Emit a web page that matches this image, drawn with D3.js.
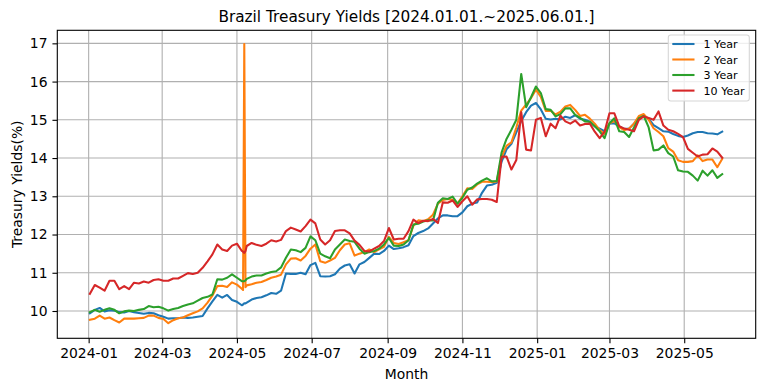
<!DOCTYPE html>
<html><head><meta charset="utf-8">
<script src="https://cdn.jsdelivr.net/npm/d3@7"></script>
<style>
body{margin:0;background:#fff}
svg{display:block}
text{font-family:"DejaVu Sans",sans-serif;fill:#000}
</style>
</head><body><div id="chart"></div>
<script>
const dates = [
"2024-01-02","2024-01-06","2024-01-10","2024-01-14","2024-01-18","2024-01-22","2024-01-26","2024-01-30",
"2024-02-03","2024-02-07","2024-02-11","2024-02-15","2024-02-19","2024-02-23","2024-02-27",
"2024-03-02","2024-03-06","2024-03-10","2024-03-14","2024-03-18","2024-03-22","2024-03-26","2024-03-30",
"2024-04-03","2024-04-07","2024-04-11","2024-04-15","2024-04-19","2024-04-23","2024-04-27",
"2024-05-01","2024-05-05","2024-05-06","2024-05-07","2024-05-08","2024-05-09","2024-05-13","2024-05-17","2024-05-21","2024-05-25","2024-05-29",
"2024-06-02","2024-06-06","2024-06-10","2024-06-14","2024-06-18","2024-06-22","2024-06-26","2024-06-30",
"2024-07-04","2024-07-08","2024-07-12","2024-07-16","2024-07-20","2024-07-24","2024-07-28",
"2024-08-01","2024-08-05","2024-08-09","2024-08-13","2024-08-17","2024-08-21","2024-08-25","2024-08-29",
"2024-09-02","2024-09-06","2024-09-10","2024-09-14","2024-09-18","2024-09-22","2024-09-26","2024-09-30",
"2024-10-04","2024-10-08","2024-10-12","2024-10-16","2024-10-20","2024-10-24","2024-10-28",
"2024-11-01","2024-11-05","2024-11-09","2024-11-13","2024-11-17","2024-11-21","2024-11-25","2024-11-29",
"2024-12-03","2024-12-07","2024-12-11","2024-12-15","2024-12-19","2024-12-23","2024-12-27","2024-12-31",
"2025-01-04","2025-01-08","2025-01-12","2025-01-16","2025-01-20","2025-01-24","2025-01-28",
"2025-02-01","2025-02-05","2025-02-09","2025-02-13","2025-02-17","2025-02-21","2025-02-25",
"2025-03-01","2025-03-05","2025-03-09","2025-03-13","2025-03-17","2025-03-21","2025-03-25","2025-03-29",
"2025-04-02","2025-04-06","2025-04-10","2025-04-14","2025-04-18","2025-04-22","2025-04-26","2025-04-30",
"2025-05-04","2025-05-08","2025-05-12","2025-05-16","2025-05-20","2025-05-24","2025-05-28",
"2025-06-01"];

const seriesNames = ["1 Year","2 Year","3 Year","10 Year"];

const yield1Y = [
9.94,10.03,10.08,9.99,10.02,10.01,9.97,9.96,
10.0,9.97,9.95,9.93,9.95,9.94,9.89,
9.85,9.8,9.81,9.81,9.83,9.82,9.83,9.85,
9.87,10.07,10.25,10.42,10.35,10.42,10.29,
10.24,10.15,10.17,10.2,10.2,10.22,10.3,10.34,10.36,10.41,10.47,
10.45,10.53,10.98,10.97,10.97,11.0,10.96,11.2,
11.26,10.91,10.9,10.91,10.96,11.11,11.19,
11.22,10.98,11.22,11.28,11.39,11.5,11.49,11.57,
11.71,11.62,11.64,11.67,11.72,11.96,12.04,12.09,
12.16,12.29,12.42,12.5,12.5,12.48,12.48,
12.58,12.74,12.81,12.84,13.09,13.28,13.3,13.35,
13.91,14.23,14.37,14.67,14.97,15.2,15.37,15.44,
15.27,15.03,15.01,15.03,15.01,15.08,15.05,
15.12,15.03,15.0,14.95,14.83,14.77,14.7,
14.9,14.91,14.83,14.76,14.77,14.9,15.03,15.11,
15.03,14.86,14.78,14.7,14.69,14.63,14.58,14.55,
14.59,14.65,14.68,14.68,14.65,14.64,14.62,
14.69];

const yield2Y = [
9.77,9.8,9.88,9.8,9.83,9.76,9.7,9.8,
9.8,9.8,9.81,9.82,9.88,9.88,9.82,
9.79,9.68,9.76,9.81,9.83,9.89,9.94,9.99,
10.07,10.22,10.4,10.65,10.66,10.63,10.75,
10.69,10.58,10.55,16.98,10.62,10.67,10.7,10.74,10.76,10.81,10.87,
10.9,10.95,11.22,11.37,11.38,11.32,11.44,11.63,
11.74,11.3,11.26,11.32,11.39,11.59,11.74,
11.77,11.45,11.5,11.54,11.61,11.54,11.61,11.68,
11.94,11.78,11.75,11.8,11.85,12.23,12.37,12.35,
12.4,12.52,12.81,12.9,12.93,12.91,12.81,
13.0,13.21,13.19,13.31,13.38,13.38,13.37,13.39,
14.03,14.32,14.41,14.8,15.24,15.4,15.57,15.79,
15.6,15.23,15.24,15.14,15.21,15.35,15.39,
15.26,15.1,15.13,15.03,14.9,14.73,14.63,
14.91,14.97,14.81,14.73,14.77,14.9,15.1,15.15,
15.0,14.78,14.68,14.57,14.26,14.17,13.94,13.9,
13.9,13.92,14.07,13.92,13.96,13.96,13.76,
13.98];

const yield3Y = [
9.97,10.03,9.98,10.03,10.07,10.03,9.94,9.99,
10.01,10.0,10.03,10.05,10.13,10.1,10.11,
10.07,10.01,10.05,10.08,10.13,10.17,10.2,10.27,
10.34,10.37,10.43,10.83,10.82,10.87,10.96,
10.87,10.78,10.78,10.78,10.8,10.84,10.9,10.93,10.93,10.98,11.02,
11.04,11.14,11.39,11.61,11.59,11.54,11.65,11.95,
11.85,11.5,11.43,11.38,11.61,11.74,11.87,
11.83,11.81,11.63,11.5,11.54,11.57,11.63,11.74,
11.91,11.71,11.7,11.74,11.85,12.26,12.28,12.34,
12.37,12.37,12.83,12.95,12.93,12.99,12.81,
12.96,13.17,13.23,13.33,13.41,13.47,13.39,13.4,
14.15,14.5,14.74,15.0,16.2,15.33,15.59,15.87,
15.7,15.28,15.26,15.09,15.15,15.3,15.3,
15.13,15.05,14.96,14.95,14.83,14.7,14.52,
14.91,15.04,14.7,14.68,14.55,14.8,15.04,15.1,
14.8,14.2,14.22,14.33,14.13,14.04,13.68,13.65,
13.64,13.54,13.41,13.67,13.54,13.68,13.48,
13.58];

const yield10Y = [
10.45,10.68,10.61,10.53,10.79,10.79,10.57,10.65,
10.57,10.74,10.72,10.77,10.74,10.81,10.83,
10.79,10.79,10.85,10.85,10.92,10.99,10.97,11.0,
11.13,11.3,11.48,11.74,11.61,11.57,11.71,
11.76,11.57,11.55,11.52,11.57,11.7,11.78,11.73,11.7,11.76,11.85,
11.82,11.86,12.09,12.18,12.13,12.08,12.22,12.39,
12.29,11.87,11.74,11.85,12.09,12.11,12.11,
12.03,11.84,11.73,11.57,11.56,11.63,11.7,11.83,
12.17,11.87,11.89,11.89,12.09,12.39,12.3,12.36,
12.35,12.41,12.3,12.84,12.83,12.89,12.72,
12.87,13.0,12.78,12.92,12.93,12.93,12.91,12.85,
14.03,14.04,13.7,13.95,15.2,14.22,14.2,15.0,
15.05,14.57,14.9,14.78,15.11,14.96,14.9,
14.98,14.85,14.89,14.9,14.69,14.52,14.69,
15.17,15.17,14.83,14.77,14.74,14.7,15.0,15.09,
15.05,15.0,15.22,14.85,14.74,14.7,14.63,14.55,
14.24,14.14,14.04,14.09,14.1,14.25,14.17,
14.01];

const xTickLabels = ["2024-01","2024-03","2024-05","2024-07","2024-09","2024-11","2025-01","2025-03","2025-05"];
const yTickValues = [10,11,12,13,14,15,16,17];
const colors = ["#1f77b4","#ff7f0e","#2ca02c","#d62728"];
const titleText = "Brazil Treasury Yields [2024.01.01.~2025.06.01.]";
const xLabel = "Month";
const yLabel = "Treasury Yields(%)";

const W = 764, H = 391;
const box = {left:57.3, right:755.7, top:30.3, bottom:338.3};
const parseDay = d3.utcParse("%Y-%m-%d");
const parseMonth = d3.utcParse("%Y-%m");
const dateObjs = dates.map(parseDay);

const x = d3.scaleUtc()
  .domain([new Date(Date.UTC(2023,11,6,10)), new Date(Date.UTC(2025,5,28,8))])
  .range([box.left, box.right]);
const y = d3.scaleLinear().domain([9.286, 17.341]).range([box.bottom, box.top]);

const svg = d3.select("#chart").append("svg").attr("width", W).attr("height", H);
svg.append("rect").attr("width", W).attr("height", H).attr("fill", "#fff");

const xTicks = xTickLabels.map(parseMonth);

// grid
const grid = svg.append("g").attr("stroke", "#b0b0b0").attr("stroke-width", 1.1);
grid.selectAll("line.gx").data(xTicks).join("line")
  .attr("x1", d => x(d)).attr("x2", d => x(d)).attr("y1", box.top).attr("y2", box.bottom);
grid.selectAll("line.gy").data(yTickValues).join("line")
  .attr("x1", box.left).attr("x2", box.right).attr("y1", d => y(d)).attr("y2", d => y(d));

// clip
svg.append("clipPath").attr("id", "clip").append("rect")
  .attr("x", box.left).attr("y", box.top).attr("width", box.right - box.left).attr("height", box.bottom - box.top);

const allSeries = [yield1Y, yield2Y, yield3Y, yield10Y];
const line = d3.line().x((d, i) => x(dateObjs[i])).y(d => y(d));
const lines = svg.append("g").attr("clip-path", "url(#clip)");
allSeries.forEach((s, k) => {
  lines.append("path").attr("d", line(s)).attr("fill", "none")
    .attr("stroke", colors[k]).attr("stroke-width", 2.08)
    .attr("stroke-linejoin", "round").attr("stroke-linecap", "square");
});

// axes
const xAxis = d3.axisBottom(x).tickValues(xTicks).tickFormat(d3.utcFormat("%Y-%m"))
  .tickSize(4.86).tickPadding(4.9);
const gx = svg.append("g").attr("transform", `translate(0,${box.bottom})`).call(xAxis);
const yAxis = d3.axisLeft(y).tickValues(yTickValues).tickFormat(d3.format("d"))
  .tickSize(4.86).tickPadding(4.9);
const gy = svg.append("g").attr("transform", `translate(${box.left},0)`).call(yAxis);
[gx, gy].forEach(g => {
  g.select(".domain").remove();
  g.selectAll(".tick line").attr("stroke", "#000").attr("stroke-width", 1.1);
  g.selectAll(".tick text").attr("font-size", 13.9).attr("font-family", "DejaVu Sans").attr("fill", "#000");
});

// frame
svg.append("rect").attr("x", box.left).attr("y", box.top)
  .attr("width", box.right - box.left).attr("height", box.bottom - box.top)
  .attr("fill", "none").attr("stroke", "#000").attr("stroke-width", 1.1);

// title & labels
svg.append("text").attr("x", (box.left + box.right) / 2).attr("y", 21.7)
  .attr("text-anchor", "middle").attr("font-size", 15.3).text(titleText);
svg.append("text").attr("x", (box.left + box.right) / 2).attr("y", 379)
  .attr("text-anchor", "middle").attr("font-size", 13.9).text(xLabel);
svg.append("text").attr("transform", `translate(21.5,${(box.top + box.bottom) / 2}) rotate(-90)`)
  .attr("text-anchor", "middle").attr("font-size", 13.9).text(yLabel);

// legend
const lg = svg.append("g");
lg.append("rect").attr("x", 668.3).attr("y", 35).attr("width", 81).attr("height", 66)
  .attr("rx", 2.5).attr("fill", "#fff").attr("fill-opacity", 0.8)
  .attr("stroke", "#d6d6d6").attr("stroke-width", 1.1);
const rowY = [44, 59.5, 75, 90.6];
seriesNames.forEach((n, k) => {
  lg.append("line").attr("x1", 672.3).attr("x2", 694.5).attr("y1", rowY[k]).attr("y2", rowY[k])
    .attr("stroke", colors[k]).attr("stroke-width", 2.08);
  lg.append("text").attr("x", 703.5).attr("y", rowY[k] + 4.2).attr("font-size", 11.1).text(n);
});
</script>
</body></html>
